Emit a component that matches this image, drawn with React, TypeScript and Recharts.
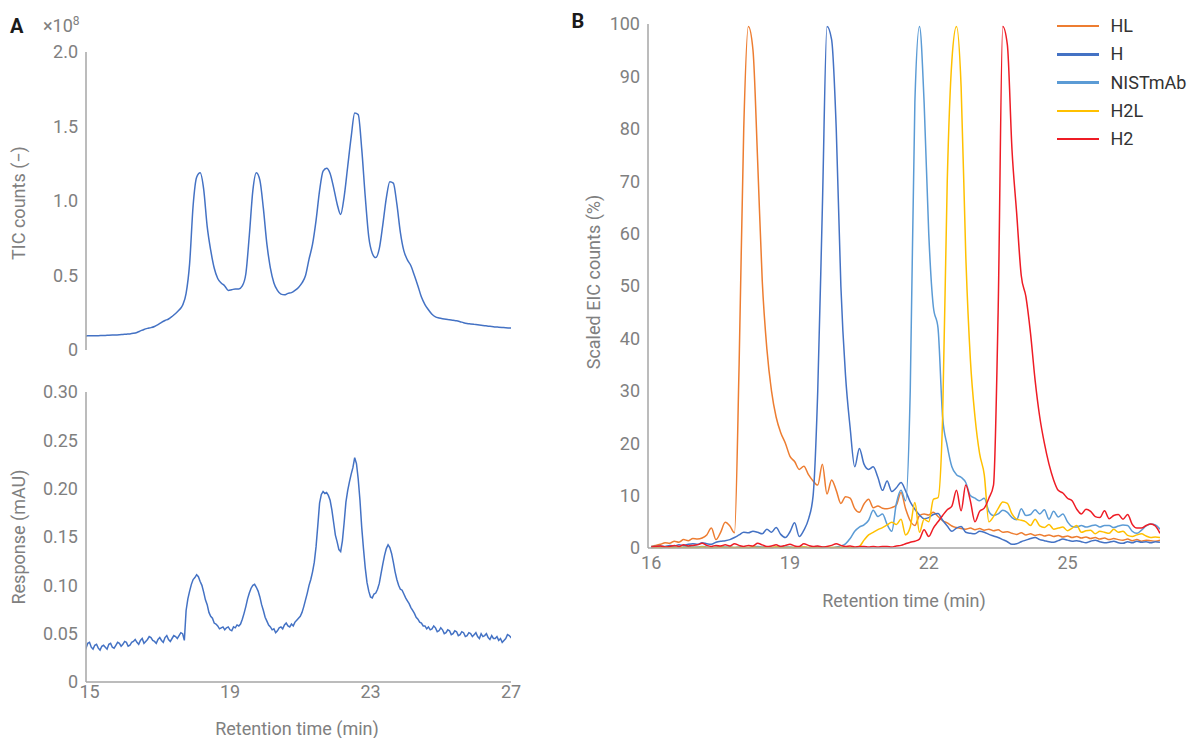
import React from 'react';
import { LineChart, Line, XAxis, YAxis } from 'recharts';

const FONT = 'Roboto, "Noto Sans", "DejaVu Sans", sans-serif';
const TICK_COLOR = '#808080';
const AXIS_COLOR = '#a6a6a6';

// ---------- Panel A (top): TIC counts (x10^8), retention time grid 14.85 .. 27.05 step 0.1
const ticStart = 14.85;
const ticStep = 0.1;
const ticCounts = [
  0.094,
  0.095, 0.095, 0.096, 0.096, 0.097, 0.098, 0.099, 0.100, 0.101, 0.102,
  0.104, 0.106, 0.108, 0.112, 0.118, 0.128, 0.138, 0.145, 0.150, 0.158,
  0.170, 0.185, 0.198, 0.208, 0.225, 0.245, 0.268, 0.300, 0.380, 0.580,
  0.970, 1.160, 1.190, 1.080, 0.830, 0.670, 0.550, 0.480, 0.450, 0.430,
  0.400, 0.405, 0.410, 0.410, 0.430, 0.510, 0.770, 1.070, 1.190, 1.140,
  0.950, 0.710, 0.550, 0.450, 0.400, 0.375, 0.370, 0.380, 0.385, 0.400,
  0.420, 0.450, 0.500, 0.610, 0.710, 0.870, 1.070, 1.200, 1.220, 1.185,
  1.090, 0.980, 0.910, 1.030, 1.230, 1.430, 1.590, 1.580, 1.350, 1.030,
  0.760, 0.650, 0.620, 0.680, 0.840, 1.020, 1.130, 1.120, 0.980, 0.790,
  0.665, 0.605, 0.565, 0.500, 0.430, 0.355, 0.305, 0.270, 0.240, 0.222,
  0.215, 0.210, 0.206, 0.203, 0.199, 0.196, 0.190, 0.183, 0.178, 0.175,
  0.172, 0.169, 0.166, 0.163, 0.160, 0.158, 0.155, 0.153, 0.151, 0.149,
  0.148, 0.147,
];

// ---------- Panel A (bottom): UV response (mAU), grid 14.85 .. 27.05 step 0.05
const uvStart = 14.85;
const uvStep = 0.05;
const uvResponse = [
  0.038, 0.035, 0.040, 0.041, 0.036, 0.034, 0.038, 0.039, 0.035, 0.033, 0.037,
  0.038, 0.036, 0.034, 0.039, 0.040, 0.036, 0.035, 0.038, 0.041, 0.040, 0.037,
  0.039, 0.042, 0.041, 0.037, 0.038, 0.041, 0.042, 0.044, 0.041, 0.039,
  0.043, 0.045, 0.040, 0.042, 0.044, 0.047, 0.046, 0.043, 0.042, 0.040,
  0.044, 0.046, 0.043, 0.041, 0.046, 0.048, 0.044, 0.042, 0.045, 0.048,
  0.047, 0.045, 0.048, 0.051, 0.050, 0.043, 0.074, 0.086, 0.094, 0.101,
  0.106, 0.108, 0.111, 0.109, 0.104, 0.100, 0.093, 0.085, 0.080, 0.072,
  0.068, 0.066, 0.061, 0.060, 0.058, 0.055, 0.056, 0.057, 0.054, 0.056,
  0.057, 0.054, 0.053, 0.057, 0.056, 0.059, 0.058, 0.060, 0.065, 0.071,
  0.078, 0.086, 0.092, 0.097, 0.100, 0.101, 0.098, 0.094, 0.088, 0.080,
  0.074, 0.067, 0.063, 0.059, 0.057, 0.054, 0.055, 0.051, 0.053, 0.056,
  0.057, 0.055, 0.059, 0.061, 0.058, 0.057, 0.060, 0.058, 0.062, 0.064,
  0.066, 0.068, 0.072, 0.078, 0.085, 0.092, 0.100, 0.106, 0.114, 0.124,
  0.140, 0.162, 0.185, 0.194, 0.197, 0.195, 0.196, 0.193, 0.188, 0.178,
  0.165, 0.152, 0.145, 0.137, 0.135, 0.146, 0.165, 0.186, 0.198, 0.207,
  0.215, 0.222, 0.232, 0.226, 0.210, 0.188, 0.160, 0.138, 0.118, 0.103,
  0.094, 0.088, 0.087, 0.091, 0.092, 0.096, 0.102, 0.112, 0.122, 0.131,
  0.138, 0.142, 0.139, 0.133, 0.124, 0.114, 0.106, 0.100, 0.096, 0.095,
  0.091, 0.087, 0.084, 0.081, 0.077, 0.074, 0.071, 0.067, 0.065, 0.062,
  0.061, 0.058, 0.058, 0.055, 0.057, 0.054, 0.055, 0.058, 0.056, 0.052,
  0.053, 0.056, 0.054, 0.050, 0.051, 0.054, 0.053, 0.049, 0.050, 0.053,
  0.052, 0.048, 0.049, 0.052, 0.051, 0.047, 0.048, 0.051, 0.050, 0.047,
  0.049, 0.051, 0.047, 0.045, 0.050, 0.047, 0.048, 0.050, 0.046, 0.044,
  0.048, 0.045, 0.045, 0.047, 0.043, 0.045, 0.041, 0.043, 0.045, 0.049,
  0.048, 0.046, 0.047,
];

const aXTicks = [15, 19, 23, 27];
const ticYTicks = [0, 0.5, 1.0, 1.5, 2.0];
const uvYTicks = [0, 0.05, 0.1, 0.15, 0.2, 0.25, 0.3];

// ---------- Panel B: scaled EIC counts (%), time grid 16.0 .. 27.0 step 0.1
const eicStart = 16.0;
const eicStep = 0.1;
const hlEic = [
  0.3, 0.5, 0.7, 1.0, 0.9, 1.3, 1.1, 1.6, 1.4, 1.8,
  1.7, 1.9, 2.5, 3.8, 1.6, 3.0, 4.9, 4.2, 2.9, 35,
  80, 99.5, 95, 74, 51, 38, 30, 25, 22, 20,
  17.5, 16.5, 15, 15.6, 14, 12.8, 12, 16, 10.3, 13,
  11, 8.5, 9.8, 9.5, 7.5, 6.8, 8.4, 9.3, 7.7, 8,
  7.6, 7.5, 7.7, 8.2, 10.6, 7.5, 5.2, 4.3, 6.2, 6.5,
  6.3, 6.8, 6.0, 5.2, 4.8, 4.2, 3.9, 3.7, 3.6, 3.8,
  3.5, 3.7, 3.4, 3.6, 3.3, 3.5, 3.0, 3.1, 2.8, 2.6,
  2.9, 2.5, 2.7, 2.4, 2.6, 2.3, 2.5, 2.2, 2.4, 2.1,
  2.3, 2.0, 2.2, 1.9, 2.1, 1.8, 2.0, 1.7, 1.9, 1.6,
  1.8, 1.6, 1.5, 1.7, 1.4, 1.6, 1.3, 1.5, 1.4, 1.3,
  1.5,
];
const hEic = [
  0.3, 0.3, 0.4, 0.3, 0.5, 0.4, 0.6, 0.5, 0.7, 0.8,
  0.7, 1.0, 0.8, 0.7, 1.1, 1.3, 1.4, 1.6, 2.0, 2.5,
  3.0, 2.9, 3.2, 3.0, 2.7, 3.6, 3.0, 3.9, 2.6, 2.0,
  3.1, 4.8, 2.2, 3.4, 5.5, 10, 30, 65, 99.5, 97,
  80, 50, 33, 23, 15.5, 19, 16, 15, 15.5, 13.5,
  11, 12.8, 10.8, 11.5, 12.5, 10.9, 8.8, 7.4, 6.3, 5.6,
  5.8, 6.4, 6.6, 5.3, 4.2, 3.2, 3.8, 4.1, 3.0, 2.8,
  2.7, 3.2, 3.0, 2.6, 2.3, 2.0, 1.6, 1.2, 0.7, 0.8,
  1.2, 1.5, 1.8, 2.0, 1.6, 1.4, 1.2, 1.1, 1.4, 1.7,
  1.5, 1.3, 1.4, 1.2, 1.0, 1.3, 1.5, 1.2, 1.0, 1.1,
  1.3, 1.0, 0.9, 1.2, 1.0, 1.3, 1.1, 1.2, 1.0, 1.2,
  1.1,
];
const nistEic = [
  0.1, 0.2, 0.1, 0.2, 0.3, 0.2, 0.1, 0.2, 0.3, 0.2,
  0.2, 0.3, 0.2, 0.1, 0.2, 0.3, 0.2, 0.2, 0.1, 0.2,
  0.2, 0.1, 0.2, 0.3, 0.2, 0.2, 0.1, 0.2, 0.3, 0.2,
  0.2, 0.1, 0.2, 0.2, 0.1, 0.2, 0.3, 0.2, 0.2, 0.1,
  0.2, 0.4, 0.8, 1.8, 3.2, 4.0, 4.4, 5.3, 7.2, 6.0,
  6.5, 4.5, 3.2, 8.5, 11, 9, 30, 85, 99.5, 85,
  60, 46, 42, 25, 19.5, 15.5, 14, 13.5, 12.5, 10,
  9.5, 9, 9.5, 7, 6.2, 6.5, 7.2, 6.8, 5.8, 5.4,
  7.5, 6.2, 6.4, 7.3, 6.5, 7.3, 5.5, 7, 5.9, 6.5,
  5, 4.1, 4, 4.3, 4.0, 4.2, 4.4, 4.0, 4.3, 4.3,
  3.9, 4.2, 4.4, 4.3, 3.2, 2.8, 3.4, 4.2, 4.6, 4.4,
  3.6,
];
const h2lEic = [
  0.1, 0.1, 0.1, 0.2, 0.1, 0.1, 0.2, 0.1, 0.1, 0.1,
  0.1, 0.2, 0.1, 0.1, 0.1, 0.2, 0.1, 0.1, 0.1, 0.1,
  0.1, 0.1, 0.2, 0.1, 0.1, 0.1, 0.1, 0.2, 0.1, 0.1,
  0.1, 0.1, 0.1, 0.2, 0.1, 0.1, 0.1, 0.1, 0.2, 0.1,
  0.1, 0.1, 0.2, 0.1, 0.1, 0.3, 1.5, 2.5, 3.0, 3.5,
  3.9, 4.4, 4.9, 4.5, 5.5, 2.5, 4, 8.7, 3.0, 5.5,
  5, 9.3, 9.6, 25, 70, 93, 99.5, 88, 56, 36,
  25, 18, 14, 5, 6, 7.5, 8.8, 8.5, 6.5, 5.5,
  5.3, 5, 4.3, 5.5, 4.2, 3.9, 4.5, 3.6, 3.8, 4.0,
  3.3, 3.8, 4.3, 3.0, 3.3, 3.4, 2.7, 3.2, 3.0, 2.8,
  3.6, 3.0, 3.2, 2.4, 2.2, 2.5, 2.7, 2.3, 2.0, 2.1,
  2.0,
];
const h2Eic = [
  0.2, 0.3, 0.4, 0.2, 0.3, 0.5, 0.3, 0.6, 0.4, 0.5,
  0.6, 0.9, 0.5, 0.3, 0.5, 0.4, 0.6, 0.4, 0.8, 0.5,
  0.3, 0.5, 0.4, 0.9, 0.6, 0.3, 0.4, 0.6, 0.3, 0.5,
  0.7, 0.4, 0.3, 0.8, 0.5, 0.3, 0.4, 0.2, 0.3, 0.5,
  0.8, 0.5, 0.3, 0.4, 0.2, 0.3, 0.3, 0.2, 0.3, 0.2,
  0.3, 0.3, 0.2, 0.4, 0.5, 0.8, 1.1, 1.3, 1.7, 3.5,
  2.2, 3.8, 5.0, 6.2, 7.3, 8, 11, 7.1, 12, 9,
  5, 7, 7.6, 9.5, 12, 45, 99.5, 96, 76, 64,
  52, 48, 41, 32, 25, 20, 16, 13, 11, 10.5,
  9.5, 9, 7.4, 6.5, 7.4, 7, 6, 5.8, 7.1, 5.6,
  6.2, 6.4, 5.5, 6.4, 4.5, 3.8, 3.8, 4.3, 4.6, 4.2,
  2.8,
];

const seriesNames = ['HL', 'H', 'NISTmAb', 'H2L', 'H2'];
const seriesColors = ['#ED7D31', '#4472C4', '#5B9BD5', '#FFC000', '#EE1C25'];
const seriesValues = [hlEic, hEic, nistEic, h2lEic, h2Eic];
const bXTicks = [16, 19, 22, 25];
const bYTicks = [0, 10, 20, 30, 40, 50, 60, 70, 80, 90, 100];

// sampling grid of the recorded traces
const gridTime = (start: number, step: number, i: number) => Math.round((start + i * step) * 1000) / 1000;

const ticData = ticCounts.map((v, i) => ({ t: gridTime(ticStart, ticStep, i), v }));
const uvData = uvResponse.map((v, i) => ({ t: gridTime(uvStart, uvStep, i), v }));
const eicData = hlEic.map((_, i) => {
  const row: Record<string, number> = { t: gridTime(eicStart, eicStep, i) };
  seriesNames.forEach((n, k) => {
    row[n] = seriesValues[k][i];
  });
  return row;
});

const tickStyle = { fill: TICK_COLOR, fontSize: 18, fontFamily: FONT };
const axisLineStyle = { stroke: AXIS_COLOR, strokeWidth: 1.5 };

const textBase: React.CSSProperties = {
  position: 'absolute',
  fontFamily: FONT,
  whiteSpace: 'nowrap',
};

function RotTitle({ text, cx, cy }: { text: string; cx: number; cy: number }) {
  const w = 260;
  return (
    <div
      style={{
        ...textBase,
        left: cx - w / 2,
        top: cy - 11,
        width: w,
        height: 22,
        lineHeight: '22px',
        fontSize: 18,
        color: TICK_COLOR,
        textAlign: 'center',
        transform: 'rotate(-90deg)',
        transformOrigin: 'center center',
      }}
    >
      {text}
    </div>
  );
}

function XTitle({ text, cx, top }: { text: string; cx: number; top: number }) {
  const w = 300;
  return (
    <div
      style={{
        ...textBase,
        left: cx - w / 2,
        top,
        width: w,
        height: 22,
        lineHeight: '22px',
        fontSize: 18,
        color: TICK_COLOR,
        textAlign: 'center',
      }}
    >
      {text}
    </div>
  );
}

export default function App() {
  return (
    <div
      style={{
        position: 'fixed',
        left: 8,
        top: 8,
        width: 1183,
        height: 730,
        overflow: 'hidden',
        fontFamily: FONT,
        background: '#fff',
      }}
    >
      {/* Panel A top */}
      <div style={{ position: 'absolute', left: 0, top: 0 }}>
        <LineChart width={520} height={360} data={ticData} margin={{ top: 44, right: 17, bottom: 18, left: 0 }}>
          <XAxis
            dataKey="t"
            type="number"
            domain={[14.9, 27]}
            allowDataOverflow
            ticks={aXTicks}
            tick={false}
            tickLine={false}
            height={0}
            axisLine={axisLineStyle}
          />
          <YAxis
            type="number"
            domain={[0, 2]}
            ticks={ticYTicks}
            interval={0}
            width={78}
            tickLine={false}
            axisLine={axisLineStyle}
            tick={tickStyle}
            tickFormatter={(v: number) => (v === 0 ? '0' : v.toFixed(1))}
          />
          <Line
            dataKey="v"
            type="monotone"
            stroke="#4472C4"
            strokeWidth={1.5}
            dot={false}
            activeDot={false}
            isAnimationActive={false}
          />
        </LineChart>
      </div>

      {/* Panel A bottom */}
      <div style={{ position: 'absolute', left: 0, top: 360 }}>
        <LineChart width={520} height={360} data={uvData} margin={{ top: 24, right: 17, bottom: 16, left: 0 }}>
          <XAxis
            dataKey="t"
            type="number"
            domain={[14.9, 27]}
            allowDataOverflow
            ticks={aXTicks}
            interval={0}
            tickLine={false}
            tickSize={1}
            tickMargin={2}
            height={30}
            axisLine={axisLineStyle}
            tick={tickStyle}
          />
          <YAxis
            type="number"
            domain={[0, 0.3]}
            ticks={uvYTicks}
            interval={0}
            width={78}
            tickLine={false}
            axisLine={axisLineStyle}
            tick={tickStyle}
            tickFormatter={(v: number) => (v === 0 ? '0' : v.toFixed(2))}
          />
          <Line
            dataKey="v"
            type="linear"
            stroke="#4472C4"
            strokeWidth={1.5}
            dot={false}
            activeDot={false}
            isAnimationActive={false}
          />
        </LineChart>
      </div>

      {/* Panel B */}
      <div style={{ position: 'absolute', left: 560, top: 0 }}>
        <LineChart width={600} height={600} data={eicData} margin={{ top: 16, right: 8, bottom: 30, left: 0 }}>
          <XAxis
            dataKey="t"
            type="number"
            domain={[15.93, 27]}
            allowDataOverflow
            ticks={bXTicks}
            interval={0}
            tickLine={false}
            height={30}
            axisLine={axisLineStyle}
            tick={tickStyle}
          />
          <YAxis
            type="number"
            domain={[0, 100]}
            ticks={bYTicks}
            interval={0}
            width={80}
            tickLine={false}
            axisLine={axisLineStyle}
            tick={tickStyle}
          />
          {seriesNames.map((n, k) => (
            <Line
              key={n}
              dataKey={n}
              type="monotone"
              stroke={seriesColors[k]}
              strokeWidth={1.5}
              dot={false}
              activeDot={false}
              isAnimationActive={false}
            />
          ))}
        </LineChart>
      </div>

      {/* Panel letters and multiplier */}
      <div style={{ ...textBase, left: 2, top: 6, fontSize: 20, lineHeight: '24px', fontWeight: 700, color: '#1a1a1a' }}>A</div>
      <div style={{ ...textBase, left: 35, top: 6.5, fontSize: 18, lineHeight: '22px', color: TICK_COLOR }}>
        ×10<span style={{ fontSize: 12, position: 'relative', top: -7 }}>8</span>
      </div>
      <div style={{ ...textBase, left: 563.5, top: 1, fontSize: 20, lineHeight: '24px', fontWeight: 700, color: '#1a1a1a' }}>B</div>

      {/* Axis titles */}
      <RotTitle text="TIC counts (−)" cx={11} cy={195} />
      <RotTitle text="Response (mAU)" cx={11} cy={529} />
      <RotTitle text="Scaled EIC counts (%)" cx={586} cy={274} />
      <XTitle text="Retention time (min)" cx={289} top={710} />
      <XTitle text="Retention time (min)" cx={896} top={582} />

      {/* Legend */}
      {seriesNames.map((n, k) => (
        <div
          key={n}
          style={{
            position: 'absolute',
            left: 1049,
            top: 18 + k * 28.3 - 11,
            height: 22,
            display: 'flex',
            alignItems: 'center',
          }}
        >
          <div style={{ width: 42, height: 2.5, background: seriesColors[k] }} />
          <div style={{ marginLeft: 11.5, fontSize: 18, lineHeight: '22px', color: '#333', fontFamily: FONT }}>{n}</div>
        </div>
      ))}
    </div>
  );
}
